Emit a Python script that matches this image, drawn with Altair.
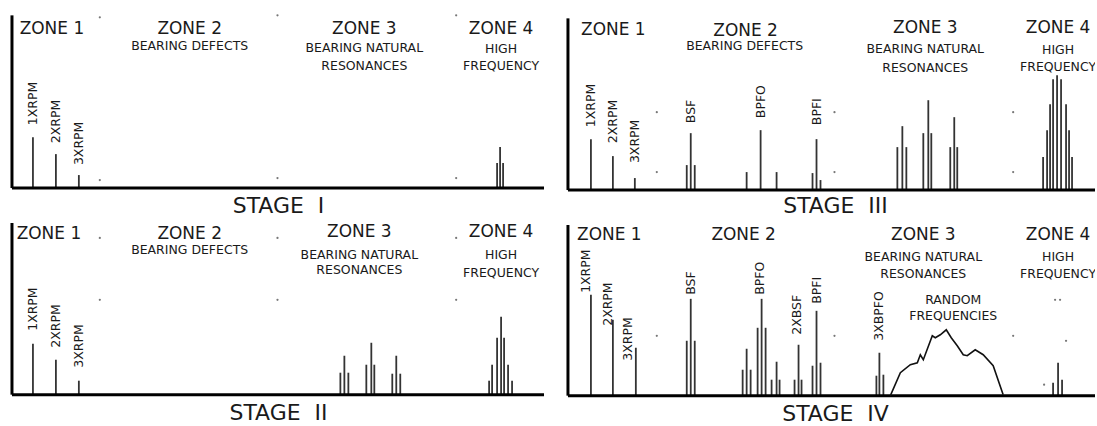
import altair as alt
import pandas as pd

# Vibration spectra for the four stages of rolling-bearing wear.
# Frequency is measured from the amplitude axis, amplitude above the baseline.

# ---------------- Stage I ----------------
s1_freq = [21, 44, 67, 486, 489, 492]
s1_amp = [51, 34, 13, 25, 41, 25]
s1_tags = ["1XRPM", "2XRPM", "3XRPM"]
s1_tag_freq = [21, 44, 67]
s1_tag_amp = [63, 45, 23]
s1_dot_freq = [88, 88, 266, 266, 445, 445]
s1_dot_amp = [171, 8, 173, 10, 173, 10]
s1_zone_freq = [40, 178, 353, 490]
s1_zone_amp = [159.5, 159.5, 159.5, 159.5]
s1_sub_text = ["BEARING DEFECTS", "BEARING NATURAL", "RESONANCES", "HIGH", "FREQUENCY"]
s1_sub_freq = [178, 353, 353, 490, 490]
s1_sub_amp = [142, 140.5, 122, 139, 122]

# ---------------- Stage III ----------------
s3_freq = [23, 45, 67, 119, 123, 127, 179, 193, 209, 245, 249, 253,
           330, 335, 339, 356, 361, 364, 383, 387, 390,
           476, 480, 483, 486, 490, 494, 499, 502, 505]
s3_amp = [51, 34, 12, 25, 57, 25, 18, 60, 18, 17, 51, 10,
          43, 64, 43, 57, 90, 57, 43, 73, 43,
          33, 60, 86, 111, 115, 111, 86, 60, 33]
s3_tags = ["1XRPM", "2XRPM", "3XRPM", "BSF", "BPFO", "BPFI"]
s3_tag_freq = [23, 45, 67, 123, 193, 249]
s3_tag_amp = [63, 47, 27, 67, 72, 65]
s3_dot_freq = [89, 89, 267, 267, 446, 446]
s3_dot_amp = [78, 18, 78, 18, 78, 18]
s3_zone_freq = [45.5, 178, 358, 491]
s3_zone_amp = [160, 159, 162, 162]
s3_sub_text = ["BEARING DEFECTS", "BEARING NATURAL", "RESONANCES", "HIGH", "FREQUENCY"]
s3_sub_freq = [177, 358, 358, 491, 491]
s3_sub_amp = [144, 141, 122.5, 140, 123]

# ---------------- Stage II ----------------
s2_freq = [21, 44, 67, 329, 333, 337, 355, 360, 363, 381, 385, 389,
           478, 481, 486, 490, 493, 497, 501]
s2_amp = [51, 35, 14, 22, 39, 22, 30, 52, 30, 21, 39, 21,
          14, 30, 57, 78, 57, 30, 14]
s2_tags = ["1XRPM", "2XRPM", "3XRPM"]
s2_tag_freq = [21, 44, 67]
s2_tag_amp = [64, 47, 27]
s2_dot_freq = [88, 88, 266, 266, 445, 445]
s2_dot_amp = [157, 95, 157, 95, 157, 95]
s2_zone_freq = [37, 178, 348, 490]
s2_zone_amp = [160.5, 160.5, 163, 163]
s2_sub_text = ["BEARING DEFECTS", "BEARING NATURAL", "RESONANCES", "HIGH", "FREQUENCY"]
s2_sub_freq = [178, 348, 348, 490, 490]
s2_sub_amp = [144.5, 139.5, 124.5, 140, 122]

# ---------------- Stage IV ----------------
s4_freq = [23, 45, 68, 119, 123, 127, 175, 179, 183, 190, 194, 198,
           204, 209, 212, 227, 231, 234, 245, 249, 253, 309, 312, 316,
           486, 491, 495]
s4_amp = [101, 76, 48, 55, 97, 55, 26, 47, 26, 68, 97, 68,
          16, 34, 16, 16, 51, 16, 30, 85, 33, 20, 43, 21,
          13, 33, 16]
s4_tags = ["1XRPM", "2XRPM", "3XRPM", "BSF", "BPFO", "2XBSF", "BPFI", "3XBPFO"]
s4_tag_freq = [18, 40, 60, 123, 192, 229, 249, 312]
s4_tag_amp = [103, 70, 35, 101, 101, 61, 92, 55]
s4_dot_freq = [89, 267, 446, 488, 493, 499, 477]
s4_dot_amp = [60, 60, 60, 96, 96, 55, 11]
s4_zone_freq = [41.5, 176, 356, 491]
s4_zone_amp = [160.5, 160.5, 160.5, 160.5]
s4_sub_text = ["BEARING NATURAL", "RESONANCES", "HIGH", "FREQUENCY",
               "RANDOM", "FREQUENCIES"]
s4_sub_freq = [356, 356, 491, 491, 386, 386]
s4_sub_amp = [139, 122, 139, 122, 95.5, 79.5]
# broadband "random frequencies" hump
s4_noise_freq = [323, 333, 343, 350, 353, 356, 365, 368, 373, 379, 384,
                 390, 396, 400, 408, 416, 426, 436]
s4_noise_amp = [0, 23, 31, 33, 41, 36, 60, 58, 61, 66, 58,
                50, 41, 40, 46, 41, 30, 1]

zone_names = ["ZONE 1", "ZONE 2", "ZONE 3", "ZONE 4"]

FONT = "DejaVu Sans"
INK = "#1a1a1a"
LINE = "#333333"


def panel(stage, stage_at, freq, amp, tags, tag_freq, tag_amp,
          dot_freq, dot_amp, zone_freq, zone_amp,
          sub_text, sub_freq, sub_amp, x_end, y_top,
          width, xdom, ydom, noise=None):
    x = alt.X("f:Q", scale=alt.Scale(domain=xdom, nice=False, zero=False), axis=None)
    y = alt.Y("a:Q", scale=alt.Scale(domain=ydom, nice=False, zero=False), axis=None)

    spikes = alt.Chart(pd.DataFrame({"f": freq, "a": amp})).mark_rule(
        color=LINE, strokeWidth=1.8
    ).encode(x=x, y=y, y2=alt.datum(0))

    base = alt.Chart(pd.DataFrame({"f": [0], "f2": [x_end], "a": [0]})).mark_rule(
        color="#000", strokeWidth=3
    ).encode(x=x, x2="f2:Q", y=y)

    vaxis = alt.Chart(pd.DataFrame({"f": [0], "a": [0], "a2": [y_top]})).mark_rule(
        color="#000", strokeWidth=3
    ).encode(x=x, y=y, y2="a2:Q")

    dots = alt.Chart(pd.DataFrame({"f": dot_freq, "a": dot_amp})).mark_point(
        filled=True, size=5, color="#777", opacity=1
    ).encode(x=x, y=y)

    tag_text = alt.Chart(pd.DataFrame({"f": tag_freq, "a": tag_amp, "t": tags})).mark_text(
        angle=270, align="left", baseline="middle", fontSize=12.5, font=FONT, color=INK, clip=True
    ).encode(x=x, y=y, text="t:N")

    zones = alt.Chart(pd.DataFrame({"f": zone_freq, "a": zone_amp, "t": zone_names})).mark_text(
        align="center", baseline="middle", fontSize=17, font=FONT, color=INK, clip=True
    ).encode(x=x, y=y, text="t:N")

    subs = alt.Chart(pd.DataFrame({"f": sub_freq, "a": sub_amp, "t": sub_text})).mark_text(
        align="center", baseline="middle", fontSize=12.5, font=FONT, color=INK, clip=True
    ).encode(x=x, y=y, text="t:N")

    # stage caption sits on its alphabetic baseline so the glyphs stay inside the cell
    title = alt.Chart(pd.DataFrame({"f": [stage_at[0]], "a": [stage_at[1]], "t": [stage]})).mark_text(
        align="center", baseline="alphabetic", fontSize=22, font=FONT, color=INK, clip=True
    ).encode(x=x, y=y, text="t:N")

    layers = [spikes, base, vaxis, dots, tag_text, zones, subs, title]
    if noise is not None:
        curve = alt.Chart(pd.DataFrame({"f": noise[0], "a": noise[1]})).mark_line(
            color="#111", strokeWidth=1.6
        ).encode(x=x, y=y)
        layers.append(curve)

    return alt.layer(*layers).properties(width=width, height=213)


top_left = panel("STAGE\u00a0\u00a0I", (267, -24.5), s1_freq, s1_amp, s1_tags, s1_tag_freq, s1_tag_amp,
                 s1_dot_freq, s1_dot_amp, s1_zone_freq, s1_zone_amp,
                 s1_sub_text, s1_sub_freq, s1_sub_amp, 533, 173,
                 548, [-12, 536], [-25, 188])

top_right = panel("STAGE\u00a0\u00a0III", (268, -22.5), s3_freq, s3_amp, s3_tags, s3_tag_freq, s3_tag_amp,
                  s3_dot_freq, s3_dot_amp, s3_zone_freq, s3_zone_amp,
                  s3_sub_text, s3_sub_freq, s3_sub_amp, 528, 172,
                  549, [-21, 528], [-23, 190])

bottom_left = panel("STAGE\u00a0\u00a0II", (267, -25), s2_freq, s2_amp, s2_tags, s2_tag_freq, s2_tag_amp,
                    s2_dot_freq, s2_dot_amp, s2_zone_freq, s2_zone_amp,
                    s2_sub_text, s2_sub_freq, s2_sub_amp, 533, 172,
                    548, [-12, 536], [-31, 182])

bottom_right = panel("STAGE\u00a0\u00a0IV", (268, -25), s4_freq, s4_amp, s4_tags, s4_tag_freq, s4_tag_amp,
                     s4_dot_freq, s4_dot_amp, s4_zone_freq, s4_zone_amp,
                     s4_sub_text, s4_sub_freq, s4_sub_amp, 528, 171,
                     549, [-21, 528], [-30, 183],
                     noise=(s4_noise_freq, s4_noise_amp))

chart = alt.vconcat(
    alt.hconcat(top_left, top_right, spacing=0),
    alt.hconcat(bottom_left, bottom_right, spacing=0),
    spacing=0,
).properties(
    padding=0,
    background="white",
).configure_view(
    stroke=None
).configure_concat(
    spacing=0
)

chart.save("out.html", embed_options={"renderer": "svg", "actions": False})
